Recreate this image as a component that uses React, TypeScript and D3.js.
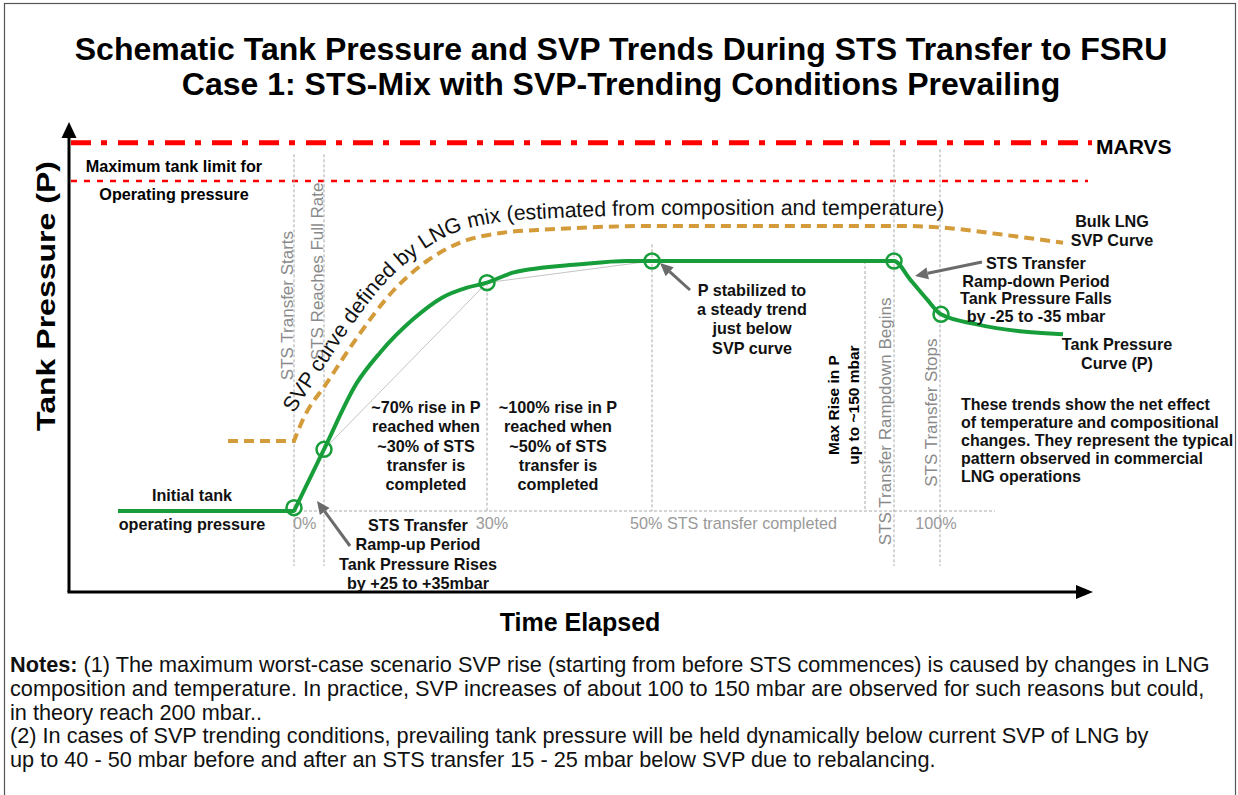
import React from "react";
import * as d3 from "d3";

const W = 1238;
const H = 795;
const FONT = "'Liberation Sans', Arial, Helvetica, sans-serif";

// Schematic time axis (hours) and pressure axis (mbar above initial tank pressure)
const tankTime = [2.5, 11.3, 12.8, 14.45, 15.6, 17.25, 18.7, 19.95, 20.95, 22.25, 25.6, 27.95, 29.2, 41.3, 42.1, 42.95, 43.65, 45.45, 49.75];
const tankPressure = [0, 0, 37, 77, 95, 115, 128, 134, 137, 143, 148, 150, 150, 150, 139, 127, 118, 112, 106];

const svpTime = [8.0, 11.3, 11.75, 12.95, 14.45, 16.25, 17.95, 19.6, 21.75, 24.1, 29.1, 36.6, 41.8, 43.75, 46.6, 49.75];
const svpPressure = [42, 42, 55, 77, 104, 132, 150, 161, 167, 169, 171, 171, 171, 170, 166, 161];

const markerTime = [11.3, 12.8, 20.95, 29.2, 41.3, 43.65];
const markerPressure = [2, 37, 137, 150, 150, 118];

const MARVS = 221;
const MAX_OPERATING = 198;

// phase guide lines: time, top pressure, bottom pressure
const guideTime = [11.3, 12.8, 20.95, 29.2, 39.85, 41.3, 43.6];
const guideTop = [214, 214, 137, 160, 150, 217, 217];
const guideBottom = [-33, -33, 0, 0, 0, -33, -33];

const tickLabels = ["0%", "30%", "50% STS transfer completed", "100%"];
const tickTime = [11.3, 20.95, 29.2, 43.6];
const tickAnchor = ["start", "middle", "start", "middle"];
const tickDx = [-1, 5, -22, -4];

const phaseLabels = ["STS Transfer Starts", "STS Reaches Full Rate", "STS Transfer Rampdown Begins", "STS Transfer Stops"];
const phaseLabelTime = [11.3, 12.8, 41.3, 43.6];
const phaseLabelStart = [78.5, 90.5, -20.5, 14.5];
const phaseLabelDx = [-1, -1, -3, -3];

const titleLines = [
  "Schematic Tank Pressure and SVP Trends During STS Transfer to FSRU",
  "Case 1: STS-Mix with SVP-Trending Conditions Prevailing",
];

const notesLines = [
  "composition and temperature. In practice, SVP increases of about 100 to 150 mbar are observed for such reasons but could,",
  "in theory reach 200 mbar..",
  "(2) In cases of SVP trending conditions, prevailing tank pressure will be held dynamically below current SVP of LNG by",
  "up to 40 - 50 mbar before and after an STS transfer 15 - 25 mbar below SVP due to rebalancing.",
];

const x = d3.scaleLinear().domain([0, 51]).range([68, 1088]);
const y = d3.scaleLinear().domain([0, 150]).range([511, 261]);

const GREEN = "#179e3a";
const GOLD = "#d39b3a";
const GRID = "#a8a8a8";
const ARROW = "#6b6b6b";
const ANN = 16.2;

function Lines({ lines, cx, y0, dy, size = ANN, weight = 700, anchor = "middle", fill = "#111" }: any) {
  return (
    <text x={cx} y={y0} fontSize={size} fontWeight={weight} textAnchor={anchor} fill={fill} fontFamily={FONT}>
      {lines.map((l: string, i: number) => (
        <tspan key={i} x={cx} y={y0 + i * dy}>
          {l}
        </tspan>
      ))}
    </text>
  );
}

function Arrow({ x1, y1, x2, y2 }: any) {
  const ang = Math.atan2(y2 - y1, x2 - x1);
  const L = 13;
  const Wd = 6;
  const bx = x2 - L * Math.cos(ang);
  const by = y2 - L * Math.sin(ang);
  const px = -Math.sin(ang) * Wd;
  const py = Math.cos(ang) * Wd;
  return (
    <g>
      <line x1={x1} y1={y1} x2={bx} y2={by} stroke={ARROW} strokeWidth={3} />
      <path d={`M${x2},${y2} L${bx + px},${by + py} L${bx - px},${by - py} Z`} fill={ARROW} />
    </g>
  );
}

export default function App() {
  const tankPts: [number, number][] = tankTime.map((t, i) => [x(t), y(tankPressure[i])]);
  const svpPts: [number, number][] = svpTime.map((t, i) => [x(t), y(svpPressure[i])]);

  const curve = d3.line().curve(d3.curveMonotoneX);
  const tankPath = `M${tankPts[0][0]},${tankPts[0][1]}L` + (curve(tankPts.slice(1)) as string).slice(1);
  const svpPath = `M${svpPts[0][0]},${svpPts[0][1]}L` + (curve(svpPts.slice(1)) as string).slice(1);

  // label path offset above the rising SVP curve
  const rising = svpPts.slice(2);
  const off = 11;
  const offPts: [number, number][] = rising.map((p, i) => {
    const a = rising[Math.max(i - 1, 0)];
    const b = rising[Math.min(i + 1, rising.length - 1)];
    const tx = b[0] - a[0];
    const ty = b[1] - a[1];
    const len = Math.hypot(tx, ty) || 1;
    return [p[0] + (ty / len) * off, p[1] + (-tx / len) * off];
  });
  const labelPath = d3.line().curve(d3.curveCatmullRom)(offPts) as string;

  const axisX = 69;
  const axisY = 592;

  return (
    <svg width={W} height={H} style={{ position: "absolute", left: 0, top: 0, display: "block", background: "#fff" }} fontFamily={FONT}>
      <rect x={4.5} y={3.5} width={1231} height={900} fill="#fff" stroke="#555" strokeWidth={1.2} />

      {/* Title */}
      {titleLines.map((t, i) => (
        <text key={i} x={621} y={59.5 + i * 35} textAnchor="middle" fontSize={32} fontWeight={700} fill="#000">
          {t}
        </text>
      ))}

      {/* Limits */}
      <line x1={71} x2={1092} y1={y(MARVS)} y2={y(MARVS)} stroke="#ff0000" strokeWidth={5} strokeDasharray="20,10,6,11" />
      <text x={1096} y={y(MARVS) + 11} fontSize={21} fontWeight={700} fill="#000">MARVS</text>
      <line x1={71} x2={1088} y1={y(MAX_OPERATING)} y2={y(MAX_OPERATING)} stroke="#ff0000" strokeWidth={2.4} strokeDasharray="6,7" />
      <text x={174} y={172} textAnchor="middle" fontSize={ANN} fontWeight={700}>Maximum tank limit for</text>
      <text x={174} y={200} textAnchor="middle" fontSize={ANN} fontWeight={700}>Operating pressure</text>

      {/* Guides */}
      {guideTime.map((t, i) => (
        <line key={i} x1={x(t)} x2={x(t)} y1={y(guideTop[i])} y2={y(guideBottom[i])} stroke={GRID} strokeWidth={1} strokeDasharray="3,2" />
      ))}
      <line x1={x(11.3)} x2={995} y1={y(0)} y2={y(0)} stroke={GRID} strokeWidth={1} strokeDasharray="3,2" />

      {/* chords */}
      <line x1={x(markerTime[1])} y1={y(markerPressure[1])} x2={x(markerTime[2])} y2={y(markerPressure[2])} stroke="#bdbdbd" strokeWidth={0.9} />
      <line x1={x(markerTime[2])} y1={y(markerPressure[2])} x2={x(markerTime[3])} y2={y(markerPressure[3])} stroke="#bdbdbd" strokeWidth={0.9} />

      {/* tick labels */}
      {tickLabels.map((l, i) => (
        <text key={i} x={x(tickTime[i]) + tickDx[i]} y={529} textAnchor={tickAnchor[i]} fontSize={16.2} fill="#999">
          {l}
        </text>
      ))}

      {/* phase labels */}
      {phaseLabels.map((l, i) => {
        const px = x(phaseLabelTime[i]) + phaseLabelDx[i];
        const py = y(phaseLabelStart[i]);
        return (
          <text key={i} transform={`translate(${px},${py}) rotate(-90)`} fontSize={17} fill="#8a8a8a">
            {l}
          </text>
        );
      })}

      {/* SVP curve */}
      <path d={svpPath} fill="none" stroke={GOLD} strokeWidth={4} strokeDasharray="10,6" />
      <path id="svpLabelPath" d={labelPath} fill="none" stroke="none" />
      <text fontSize={21.3} fill="#111">
        <textPath href="#svpLabelPath" startOffset={0}>
          SVP curve defined by LNG mix (estimated from composition and temperature)
        </textPath>
      </text>

      {/* Tank pressure */}
      <path d={tankPath} fill="none" stroke={GREEN} strokeWidth={4} strokeLinejoin="round" />
      {markerTime.map((t, i) => (
        <circle key={i} cx={x(t)} cy={y(markerPressure[i])} r={7.5} fill="none" stroke={GREEN} strokeWidth={2.5} />
      ))}

      {/* Axes */}
      <line x1={axisX} y1={axisY} x2={axisX} y2={136} stroke="#000" strokeWidth={3} />
      <path d={`M${axisX},122 L${axisX - 7.5},138 L${axisX + 7.5},138 Z`} fill="#000" />
      <line x1={axisX - 1.5} y1={axisY} x2={1078} y2={axisY} stroke="#000" strokeWidth={3} />
      <path d={`M1093,${axisY} L1076,${axisY - 7} L1076,${axisY + 7} Z`} fill="#000" />
      <text transform="translate(55,296) rotate(-90)" textAnchor="middle" fontSize={26} fontWeight={700} textLength={270} lengthAdjust="spacingAndGlyphs">Tank Pressure (P)</text>
      <text x={580} y={631} textAnchor="middle" fontSize={25} fontWeight={700}>Time Elapsed</text>

      {/* Annotations */}
      <Lines lines={["Initial tank"]} cx={192} y0={501} dy={20} />
      <Lines lines={["operating pressure"]} cx={192} y0={530} dy={20} />
      <Lines lines={["STS Transfer", "Ramp-up Period", "Tank Pressure Rises", "by +25 to +35mbar"]} cx={418} y0={531} dy={19.3} />
      <Arrow x1={350} y1={546} x2={317} y2={501} />
      <Lines lines={["~70% rise in P", "reached when", "~30% of STS", "transfer is", "completed"]} cx={426} y0={413} dy={19.3} />
      <Lines lines={["~100% rise in P", "reached when", "~50% of STS", "transfer is", "completed"]} cx={558} y0={413} dy={19.3} />
      <Lines lines={["P stabilized to", "a steady trend", "just below", "SVP curve"]} cx={752} y0={296} dy={19.2} />
      <Arrow x1={690} y1={290} x2={660} y2={263} />
      <text transform="translate(839,405) rotate(-90)" textAnchor="middle" fontSize={15.5} fontWeight={700}>Max Rise in P</text>
      <text transform="translate(859,405) rotate(-90)" textAnchor="middle" fontSize={15.5} fontWeight={700}>up to ~150 mbar</text>
      <Lines lines={["Bulk LNG", "SVP Curve"]} cx={1112} y0={227} dy={19} />
      <Lines lines={["STS Transfer", "Ramp-down Period", "Tank Pressure Falls", "by -25 to -35 mbar"]} cx={1036} y0={269} dy={17.5} />
      <Arrow x1={982} y1={262} x2={915} y2={276} />
      <Lines lines={["Tank Pressure", "Curve (P)"]} cx={1117} y0={350} dy={19} />
      <Lines
        lines={[
          "These trends show the net effect",
          "of temperature and compositional",
          "changes. They represent the typical",
          "pattern observed in commercial",
          "LNG operations",
        ]}
        cx={961}
        y0={410}
        dy={18}
        size={16}
        anchor="start"
      />

      {/* Notes */}
      <text x={10} y={672} fontSize={21.7} fill="#111">
        <tspan fontWeight={700}>Notes:</tspan>
        <tspan> (1) The maximum worst-case scenario SVP rise (starting from before STS commences) is caused by changes in LNG</tspan>
      </text>
      {notesLines.map((l, i) => (
        <text key={i} x={10} y={696 + i * 23.7} fontSize={21.7} fill="#111">
          {l}
        </text>
      ))}
    </svg>
  );
}
